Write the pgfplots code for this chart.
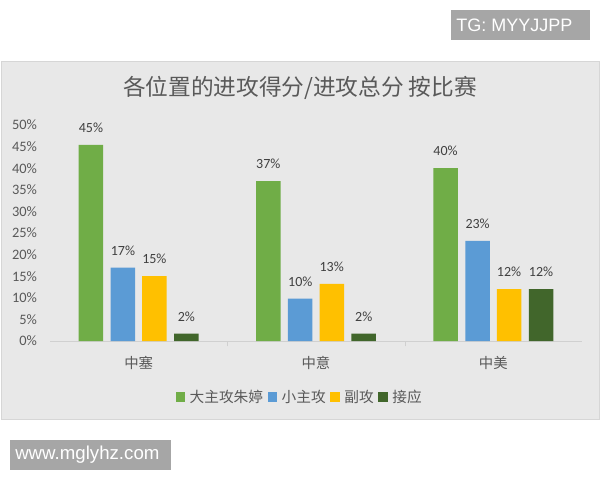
\documentclass[border=0pt]{standalone}
\usepackage{pgfplots}
\pgfplotsset{compat=1.18}
\usepackage{fontspec}
\setmainfont{Carlito}
\newfontfamily\cjk{Noto Sans CJK SC}
\newfontfamily\arial{Liberation Sans}

\definecolor{cgreen}{HTML}{70AD47}
\definecolor{cblue}{HTML}{5B9BD5}
\definecolor{cyellow}{HTML}{FFC000}
\definecolor{cdark}{HTML}{41662B}
\definecolor{bggray}{HTML}{E8E8E8}
\definecolor{bordergray}{HTML}{D6D6D6}
\definecolor{linegray}{HTML}{D0D0D0}
\definecolor{textgray}{HTML}{595959}
\definecolor{labelgray}{HTML}{404040}
\definecolor{tagbg}{HTML}{A6A6A6}

% one category = 133pt, so bar offsets in pt for the value labels
\pgfplotsset{
  sqlegend/.style={legend image code/.code={\fill[##1] (0pt,-3.5pt) rectangle (7pt,3.5pt);}},
  mybar/.style={ybar, bar width=0.138, draw=none, sqlegend},
  lblshift/.style={every node near coord/.append style={xshift=#1}},
}

\begin{document}
\begin{tikzpicture}
% frame in pixel units (600 x 480), y up
\begin{scope}[x=0.75pt,y=0.75pt]
  \fill[white] (0,0) rectangle (600,480);
  \filldraw[fill=bggray, draw=bordergray] (1,61) rectangle (599,419);
  \fill[tagbg] (451,440) rectangle (590,470);
  \node[anchor=west, text=white, font=\arial\fontsize{13.5}{15}\selectfont, inner sep=0pt] at (456,455) {TG: MYYJJPP};
  \fill[tagbg] (10,10) rectangle (171,40);
  \node[anchor=west, text=white, font=\arial\fontsize{14}{16}\selectfont, inner sep=0pt] at (15,25) {www.mglyhz.com};
  \node[text=textgray, font=\cjk\fontsize{17}{20}\selectfont, inner sep=0pt] at (300,392) {各位置的进攻得分/进攻总分 按比赛};
\end{scope}

\begin{axis}[
  at={(37.5pt,104.25pt)}, anchor=south west,
  scale only axis, width=399pt, height=162pt,
  xmin=-0.5, xmax=2.5, ymin=0, ymax=50,
  axis x line=bottom, axis y line=left,
  axis line style={-},
  x axis line style={draw=linegray},
  y axis line style={draw=none},
  xtick={0,1,2},
  xticklabels={{\cjk 中塞},{\cjk 中意},{\cjk 中美}},
  major x tick style={draw=none},
  minor xtick={0.5,1.5},
  minor tick length=4pt, tick align=outside,
  minor x tick style={draw=linegray},
  ytick={0,5,...,50},
  major y tick style={draw=none},
  yticklabel={\pgfmathprintnumber{\tick}\%},
  /pgf/number format/assume math mode=true,
  ticklabel style={font=\fontsize{10.8}{12}\selectfont, text=textgray},
  yticklabel style={xshift=-2pt},
  xticklabel style={yshift=-4pt},
  point meta=explicit symbolic,
  nodes near coords,
  nodes near coords style={font=\fontsize{10.5}{12}\selectfont, text=labelgray, anchor=south, inner sep=0pt, yshift=9pt},
  clip=false,
  legend columns=4,
  legend style={at={(rel axis cs:0.47,-0.26)}, anchor=center, draw=none, fill=none,
    font=\cjk\fontsize{11}{13}\selectfont, text=textgray, column sep=1.5pt},
]
\addplot[mybar, fill=cgreen, bar shift=-0.269, lblshift=-35.8pt] coordinates {(0,45.4) [45\%] (1,37.0) [37\%] (2,40.0) [40\%]};
\addlegendentry{大主攻朱婷}
\addplot[mybar, fill=cblue, bar shift=-0.089, lblshift=-11.8pt] coordinates {(0,17.0) [17\%] (1,9.8) [10\%] (2,23.2) [23\%]};
\addlegendentry{小主攻}
\addplot[mybar, fill=cyellow, bar shift=0.089, lblshift=11.8pt] coordinates {(0,15.0) [15\%] (1,13.2) [13\%] (2,12.0) [12\%]};
\addlegendentry{副攻}
\addplot[mybar, fill=cdark, bar shift=0.269, lblshift=35.8pt] coordinates {(0,1.7) [2\%] (1,1.7) [2\%] (2,12.0) [12\%]};
\addlegendentry{接应}
\end{axis}
\end{tikzpicture}
\end{document}
